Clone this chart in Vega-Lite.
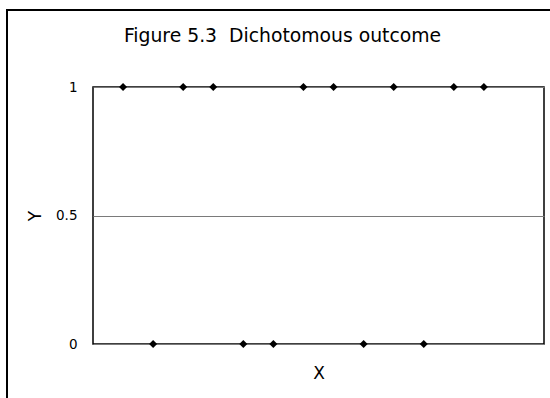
{
  "$schema": "https://vega.github.io/schema/vega-lite/v6.json",
  "width": 451,
  "height": 257,
  "autosize": {"type": "none"},
  "padding": {"left": 93, "top": 87, "right": 6, "bottom": 54},
  "background": "white",
  "title": {
    "text": "Figure 5.3\u00a0\u00a0Dichotomous outcome",
    "anchor": "middle",
    "frame": "group",
    "dx": -36,
    "offset": -36,
    "font": "DejaVu Sans",
    "fontSize": 18.8,
    "fontWeight": "normal",
    "color": "black"
  },
  "config": {
    "view": {"stroke": "black", "strokeWidth": 1.5},
    "font": "DejaVu Sans"
  },
  "data": {
    "values": [
      {"x": 1, "y": 1},
      {"x": 2, "y": 0},
      {"x": 3, "y": 1},
      {"x": 4, "y": 1},
      {"x": 5, "y": 0},
      {"x": 6, "y": 0},
      {"x": 7, "y": 1},
      {"x": 8, "y": 1},
      {"x": 9, "y": 0},
      {"x": 10, "y": 1},
      {"x": 11, "y": 0},
      {"x": 12, "y": 1},
      {"x": 13, "y": 1}
    ]
  },
  "layer": [
    {
      "mark": {"type": "rect", "fill": null, "fillOpacity": 0, "stroke": "black", "strokeWidth": 1.2, "clip": false},
      "encoding": {
        "x": {"datum": -2.86, "type": "quantitative"},
        "x2": {"datum": 20},
        "y": {"datum": 1.3, "type": "quantitative"},
        "y2": {"datum": -0.6}
      }
    },
    {
      "mark": {"type": "point", "shape": "diamond", "filled": true, "color": "black", "size": 64, "opacity": 1},
      "encoding": {
        "x": {
          "field": "x",
          "type": "quantitative",
          "scale": {"domain": [0, 15], "nice": false, "zero": false},
          "axis": {
            "title": "X",
            "titleFont": "DejaVu Sans",
            "titleFontSize": 17,
            "titleFontWeight": "normal",
            "titleColor": "black",
            "titlePadding": 21,
            "labels": false,
            "ticks": false,
            "grid": false,
            "domain": false
          }
        },
        "y": {
          "field": "y",
          "type": "quantitative",
          "scale": {"domain": [0, 1], "nice": false},
          "axis": {
            "title": "Y",
            "titleFont": "DejaVu Sans",
            "titleFontSize": 17,
            "titleFontWeight": "normal",
            "titleColor": "black",
            "titlePadding": 11,
            "values": [0, 0.5, 1],
            "labelExpr": "datum.value == 0.5 ? '0.5' : format(datum.value, 'd')",
            "labelFont": "DejaVu Sans",
            "labelFontSize": 13.5,
            "labelColor": "black",
            "labelPadding": 16,
            "ticks": false,
            "tickSize": 0,
            "domain": false,
            "grid": true,
            "gridColor": "#7a7a7a",
            "gridWidth": 1
          }
        }
      }
    }
  ]
}
